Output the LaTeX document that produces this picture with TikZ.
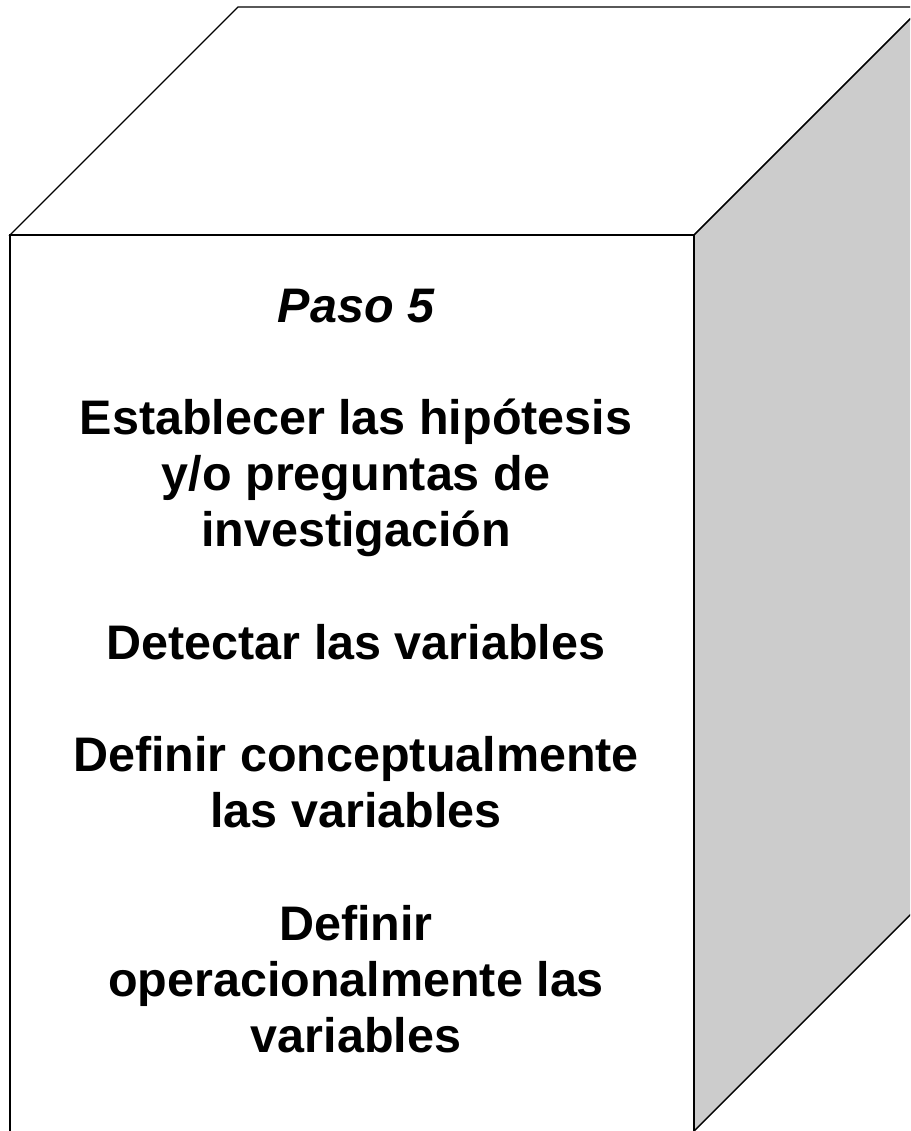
\documentclass[tikz,border=0pt]{standalone}
\usepackage{fontspec}
\setmainfont{Liberation Sans}
\begin{document}
\begin{tikzpicture}[x=1pt,y=-1pt,
  edge/.style={draw=black,line width=1.4pt,line join=miter},
  txt/.style={anchor=base,inner sep=0pt,font=\fontsize{48.5}{56}\selectfont\bfseries}]
\useasboundingbox (0,0) rectangle (910,1131);
\clip (0,0) rectangle (910,1131);
% top face
\path[edge,fill=white] (10,235) coordinate (fl) -- (238,7) coordinate (bl) -- (922,7) coordinate (br) -- (694,235) coordinate (fr) -- cycle;
% right face
\path[edge,fill={rgb,255:red,204;green,204;blue,204}] (fr) -- (br) -- (922,903) coordinate (bbr) -- (694,1131) coordinate (fbr) -- cycle;
% front face
\path[edge,fill=white] (fl) rectangle (694,1140);
% texts
\node[txt,font=\fontsize{48.5}{56}\selectfont\bfseries\itshape] (t0) at (356,322) {Paso 5};
\node[txt] (t1) at (356,434) {Establecer las hipótesis};
\node[txt] (t2) at (356,490) {y/o preguntas de};
\node[txt] (t3) at (356,546) {investigación};
\node[txt] (t4) at (356,659) {Detectar las variables};
\node[txt] (t5) at (356,771) {Definir conceptualmente};
\node[txt] (t6) at (356,827) {las variables};
\node[txt] (t7) at (356,940) {Definir};
\node[txt] (t8) at (356,996) {operacionalmente las};
\node[txt] (t9) at (356,1052) {variables};
\end{tikzpicture}
\end{document}
